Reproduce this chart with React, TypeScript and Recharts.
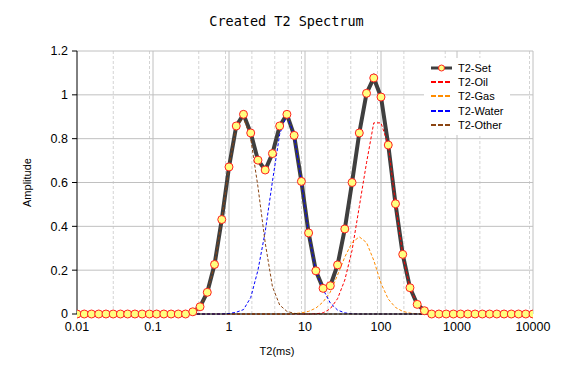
import { CartesianGrid, Legend, Line, LineChart, ReferenceLine, XAxis, YAxis } from "recharts";

// 64 log-spaced T2 bins, 0.01 .. 10000 ms
const t2 = [
  0.01, 0.01246, 0.01551, 0.01931, 0.02405, 0.02994, 0.03728, 0.04642, 0.0578, 0.07197, 0.08962,
  0.1116, 0.139, 0.173, 0.2154, 0.2683, 0.334, 0.416, 0.518, 0.645, 0.803,
  1, 1.246, 1.551, 1.931, 2.405, 2.994, 3.728, 4.642, 5.78, 7.197, 8.962,
  11.16, 13.9, 17.3, 21.54, 26.83, 33.4, 41.6, 51.8, 64.5, 80.3,
  100, 124.6, 155.1, 193.1, 240.5, 299.4, 372.8, 464.2, 578, 719.7, 896.2,
  1116, 1390, 1730, 2154, 2683, 3340, 4160, 5180, 6450, 8031, 10000,
];

const setAmp = [
  0, 0, 0, 0, 0, 0, 0, 0, 0, 0, 0,
  0, 0, 0, 0, 0, 0.01, 0.033, 0.099, 0.226, 0.431,
  0.671, 0.858, 0.911, 0.826, 0.702, 0.657, 0.732, 0.858, 0.911, 0.815, 0.605,
  0.37, 0.197, 0.117, 0.129, 0.224, 0.388, 0.6, 0.826, 1.007, 1.077,
  0.99, 0.771, 0.503, 0.272, 0.12, 0.044, 0.015, 0, 0, 0, 0,
  0, 0, 0, 0, 0, 0, 0, 0, 0, 0, 0,
];

const oilAmp = [
  0, 0, 0, 0, 0, 0, 0, 0, 0, 0, 0,
  0, 0, 0, 0, 0, 0, 0, 0, 0, 0,
  0, 0, 0, 0, 0, 0, 0, 0, 0, 0, 0,
  0, 0.001, 0.005, 0.024, 0.07, 0.155, 0.29, 0.49, 0.69, 0.872,
  0.872, 0.771, 0.503, 0.272, 0.12, 0.044, 0.015, 0.004, 0, 0, 0,
  0, 0, 0, 0, 0, 0, 0, 0, 0, 0, 0,
];

const gasAmp = [
  0, 0, 0, 0, 0, 0, 0, 0, 0, 0, 0,
  0, 0, 0, 0, 0, 0, 0, 0, 0, 0,
  0, 0, 0, 0, 0, 0, 0, 0, 0, 0.002, 0.005,
  0.012, 0.027, 0.055, 0.1, 0.178, 0.26, 0.326, 0.352, 0.326, 0.245,
  0.14, 0.068, 0.03, 0.012, 0.004, 0.001, 0, 0, 0, 0, 0,
  0, 0, 0, 0, 0, 0, 0, 0, 0, 0, 0,
];

const waterAmp = [
  0, 0, 0, 0, 0, 0, 0, 0, 0, 0, 0,
  0, 0, 0, 0, 0, 0, 0, 0, 0, 0,
  0.002, 0.008, 0.02, 0.075, 0.2, 0.375, 0.605, 0.82, 0.91, 0.815, 0.605,
  0.37, 0.197, 0.112, 0.05, 0.018, 0.005, 0.001, 0, 0, 0,
  0, 0, 0, 0, 0, 0, 0, 0, 0, 0, 0,
  0, 0, 0, 0, 0, 0, 0, 0, 0, 0, 0,
];

const otherAmp = [
  0, 0, 0, 0, 0, 0, 0, 0, 0, 0, 0,
  0, 0, 0, 0, 0, 0.01, 0.033, 0.099, 0.226, 0.431,
  0.671, 0.855, 0.897, 0.8, 0.58, 0.325, 0.125, 0.041, 0.012, 0.003, 0,
  0, 0, 0, 0, 0, 0, 0, 0, 0, 0,
  0, 0, 0, 0, 0, 0, 0, 0, 0, 0, 0,
  0, 0, 0, 0, 0, 0, 0, 0, 0, 0, 0,
];

const xTicks = [0.01, 0.1, 1, 10, 100, 1000, 10000];
const yTicks = [0, 0.2, 0.4, 0.6, 0.8, 1, 1.2];
const minorSteps = [2, 3, 4, 5, 6, 7, 8, 9];
const minorX = xTicks.slice(0, -1).flatMap((d) => minorSteps.map((m) => d * m));

const series = [
  { key: "oil", name: "T2-Oil", color: "#ff0000" },
  { key: "gas", name: "T2-Gas", color: "#ff8c00" },
  { key: "water", name: "T2-Water", color: "#0000ff" },
  { key: "other", name: "T2-Other", color: "#8b4513" },
];

const data = t2.map((t, i) => ({
  t2: t,
  set: setAmp[i],
  oil: oilAmp[i],
  gas: gasAmp[i],
  water: waterAmp[i],
  other: otherAmp[i],
}));

const font = "'Liberation Sans', Arial, sans-serif";

function LegendBox() {
  const rows = [{ key: "set", name: "T2-Set", color: "#3f3f3f" }, ...series];
  return (
    <div style={{ background: "#fff", width: 86, height: 77, paddingTop: 3, boxSizing: "border-box", fontFamily: font, fontSize: 11 }}>
      {rows.map((r) => (
        <div key={r.key} style={{ height: 14.2, display: "flex", alignItems: "center" }}>
          <svg width={34} height={14} style={{ flex: "none" }}>
            {r.key === "set" ? (
              <>
                <line x1={7} x2={28} y1={7} y2={7} stroke={r.color} strokeWidth={3} />
                <circle cx={17.5} cy={7} r={3} fill="#ffff80" stroke="#ff2020" strokeWidth={1} />
              </>
            ) : (
              <line x1={7} x2={28} y1={7} y2={7} stroke={r.color} strokeWidth={2} strokeDasharray="5 2" />
            )}
          </svg>
          <span style={{ color: "#000", whiteSpace: "nowrap" }}>{r.name}</span>
        </div>
      ))}
    </div>
  );
}

export default function App() {
  return (
    <div style={{ position: "absolute", left: 0, top: 0, width: 573, height: 372, background: "#fff" }}>
      <div
        style={{
          position: "absolute",
          top: 12,
          left: 0,
          width: 573,
          textAlign: "center",
          fontFamily: "'DejaVu Sans Mono', monospace",
          fontSize: 13.5,
          lineHeight: "18px",
          color: "#000",
        }}
      >
        Created T2 Spectrum
      </div>
      <LineChart width={573} height={372} data={data} margin={{ top: 51, right: 40, left: 0, bottom: 0 }}>
        <CartesianGrid horizontal={false} verticalValues={minorX} stroke="#d4d4d4" strokeDasharray="3 2" />
        <CartesianGrid vertical={false} horizontalValues={yTicks} stroke="#c0c0c0" />
        {xTicks.slice(1).map((v) => (
          <ReferenceLine key={v} x={v} stroke="#c0c0c0" />
        ))}
        <XAxis
          dataKey="t2"
          type="number"
          scale="log"
          domain={[0.01, 10000]}
          ticks={xTicks}
          allowDataOverflow
          tickFormatter={(v) => String(v)}
          tick={{ fontSize: 12.5, fill: "#000", fontFamily: font }}
          tickLine={false}
          tickSize={5}
          tickMargin={3}
          stroke="#000"
          height={58}
          label={{ value: "T2(ms)", position: "insideBottom", offset: 17, dx: -28, fill: "#000", fontSize: 11, fontFamily: font }}
        />
        <YAxis
          type="number"
          domain={[0, 1.2]}
          ticks={yTicks}
          tick={{ fontSize: 12.5, fill: "#000", fontFamily: font }}
          tickSize={5}
          tickMargin={4}
          stroke="#000"
          width={77}
          label={{ value: "Amplitude", angle: -90, position: "center", dx: -11, fill: "#000", fontSize: 11, fontFamily: font }}
        />
        <Legend
          layout="vertical"
          align="center"
          verticalAlign="middle"
          content={<LegendBox />}
          wrapperStyle={{ left: 424, top: 58, width: 86, height: 77 }}
        />
        <Line dataKey="set" name="T2-Set" stroke="#3f3f3f" strokeWidth={4} dot={false} isAnimationActive={false} />
        {series.map((s) => (
          <Line
            key={s.key}
            dataKey={s.key}
            name={s.name}
            stroke={s.color}
            strokeWidth={1}
            strokeDasharray="3 2"
            dot={false}
            isAnimationActive={false}
          />
        ))}
        <Line
          dataKey="set"
          name="T2-Set markers"
          stroke="none"
          legendType="none"
          dot={{ r: 4, fill: "#ffff80", stroke: "#ff2020", strokeWidth: 1 }}
          isAnimationActive={false}
        />
      </LineChart>
    </div>
  );
}
